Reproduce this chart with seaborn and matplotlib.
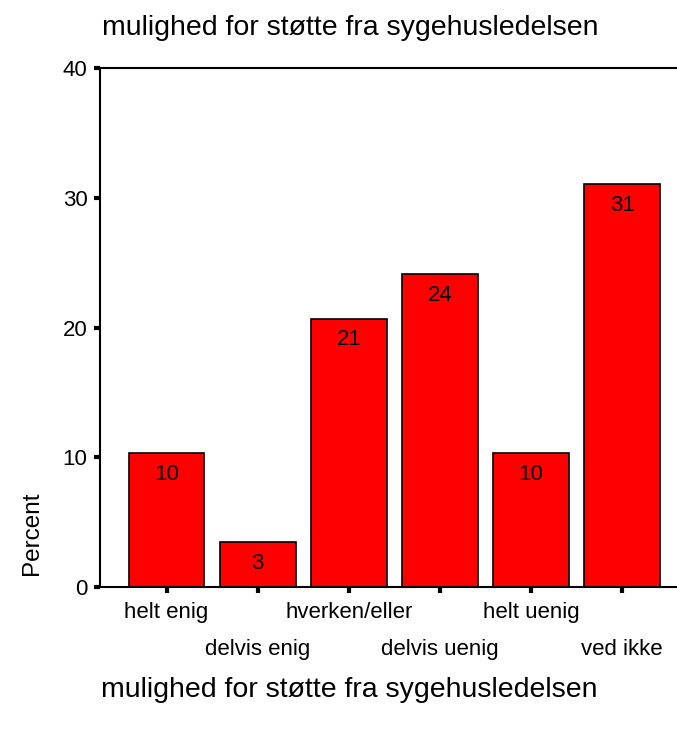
import pandas as pd
import seaborn as sns
import matplotlib.pyplot as plt
import matplotlib.transforms as mtransforms

# answers (n = 29), shown as percent
categories = ['helt enig', 'delvis enig', 'hverken/eller', 'delvis uenig', 'helt uenig', 'ved ikke']
percent = [10.34, 3.45, 20.69, 24.14, 10.34, 31.03]
bar_labels = ['10', '3', '21', '24', '10', '31']
yticks = [0, 10, 20, 30, 40]

df = pd.DataFrame({'svar': categories, 'pct': percent})

sns.set_style('white')
plt.rcParams['font.family'] = ['Liberation Sans', 'DejaVu Sans']
plt.rcParams['text.color'] = 'black'
plt.rcParams['xtick.color'] = 'black'
plt.rcParams['ytick.color'] = 'black'

fig = plt.figure(figsize=(6.77, 7.31), dpi=100)
ax = fig.add_axes([100 / 677, 144 / 731, 577 / 677, 519 / 731])

sns.barplot(data=df, x='svar', y='pct', color='#ff0000', saturation=1,
            width=0.83, edgecolor='black', linewidth=1.2, ax=ax)

ax.bar_label(ax.containers[0], labels=bar_labels, padding=-23, fontsize=16)

ax.set_ylim(0, 40)
ax.set_xlim(-0.73, 5.6)
ax.set_yticks(yticks)
ax.set_yticklabels([str(t) for t in yticks], fontsize=16)

ax.set_xticks(range(len(categories)))
ax.set_xticklabels(categories, fontsize=16)

ax.tick_params(axis='both', direction='out', length=4, width=3, color='black',
               bottom=True, left=True)
ax.tick_params(axis='x', pad=7)
ax.tick_params(axis='y', pad=5)

# every second x label on a lower row
shift = mtransforms.ScaledTranslation(0, -37 / 100, fig.dpi_scale_trans)
for i, lab in enumerate(ax.get_xticklabels()):
    if i % 2 == 1:
        lab.set_transform(lab.get_transform() + shift)

for side in ['left', 'bottom', 'top']:
    ax.spines[side].set_visible(True)
    ax.spines[side].set_color('black')
    ax.spines[side].set_linewidth(1.5)
ax.spines['right'].set_visible(False)

ax.set_xlabel('')
ax.set_ylabel('')
fig.text(32 / 677, 1 - 533 / 731, 'Percent', rotation=90, fontsize=17.5,
         ha='center', va='center')
fig.text(350 / 677, 1 - 28 / 731, 'mulighed for støtte fra sygehusledelsen',
         fontsize=20.5, ha='center', va='center')
fig.text(349 / 677, 1 - 690 / 731, 'mulighed for støtte fra sygehusledelsen',
         fontsize=20.5, ha='center', va='center')

plt.savefig('out.png', dpi=100)
